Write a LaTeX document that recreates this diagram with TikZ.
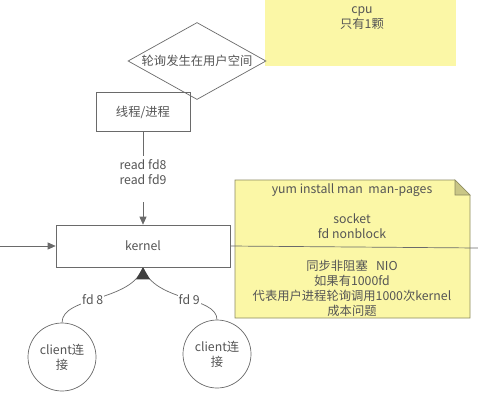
\documentclass[tikz,border=0pt]{standalone}
\usepackage{fontspec}
\setmainfont{Noto Sans CJK SC}
\usetikzlibrary{shapes.geometric,arrows.meta}
\definecolor{txt}{HTML}{555555}
\definecolor{ln}{HTML}{6A6A6A}
\definecolor{yel}{HTML}{FBF7A6}
\definecolor{noteline}{HTML}{8C8A60}
\tikzset{
  every node/.style={font=\fontsize{12.3}{15}\selectfont, text=txt, align=center},
  conn/.style={draw=ln, line width=0.7pt},
  arr/.style={conn, -{Triangle[width=7pt,length=8pt]}},
  box/.style={draw=ln, line width=0.7pt, rectangle, inner sep=0pt},
}
\begin{document}
\begin{tikzpicture}[x=1pt,y=-1pt]
\useasboundingbox[fill=white] (0,0) rectangle (478,402);
% cpu
\fill[yel] (265,0) rectangle (456,66);
\node (cpu) at (362,18) {cpu\\只有1颗};
% diamond
\node[draw=ln, line width=0.7pt, diamond, aspect=1.8, minimum width=138pt, minimum height=77pt, inner sep=0pt] (dia) at (197,61) {轮询发生在用户空间};
% thread box
\node[box, minimum width=94pt, minimum height=39pt] (thr) at (143,112) {线程/进程};
% kernel
\node[box, minimum width=174pt, minimum height=42pt] (ker) at (143,246) {kernel};
% read label
\node (rd) at (143,172) {read fd8\\read fd9};
\draw[conn] (thr.south) -- (143,156);
\coordinate (rdb) at (143,202);
\draw[arr] (rdb) -- (ker.north);
% left arrow
\coordinate (lft) at (0,246);
\draw[arr] (lft) -- (ker.west);
% note
\draw[fill=yel, draw=noteline, line width=0.7pt] (235,180) -- (455,180) -- (470,195) -- (470,318) -- (235,318) -- cycle;
\draw[fill=noteline!45!yel, draw=noteline, line width=0.7pt] (455,180) -- (470,195) -- (455,195) -- cycle;
\node (n1) at (352,190) {yum install man\ \ man-pages};
\node (n2) at (352,226) {socket\\fd nonblock};
\node (n3) at (352,288) {同步非阻塞\ \ \ NIO\\如果有1000fd\\代表用户进程轮询调用1000次kernel\\成本问题};
% line through note
\coordinate (rgt) at (478,248);
\draw[conn] (ker.east) -- (rgt);
% clients
\node[draw=ln, line width=0.7pt, circle, minimum size=68pt, inner sep=0pt] (c1) at (62,357) {client连\\接};
\node[draw=ln, line width=0.7pt, circle, minimum size=68pt, inner sep=0pt] (c2) at (217,354) {client连\\接};
\draw[conn] (c1.north) .. controls (62,296) and (132,302) .. (ker.south)
  node[pos=0.45, fill=white, inner sep=1pt] {fd 8};
\draw[conn] (c2.north) .. controls (217,296) and (154,302) .. (ker.south)
  node[pos=0.45, fill=white, inner sep=1pt] {fd 9};
\fill[ln!60!black] (ker.south) -- ++(-7,12) -- ++(14,0) -- cycle;
\end{tikzpicture}
\end{document}
